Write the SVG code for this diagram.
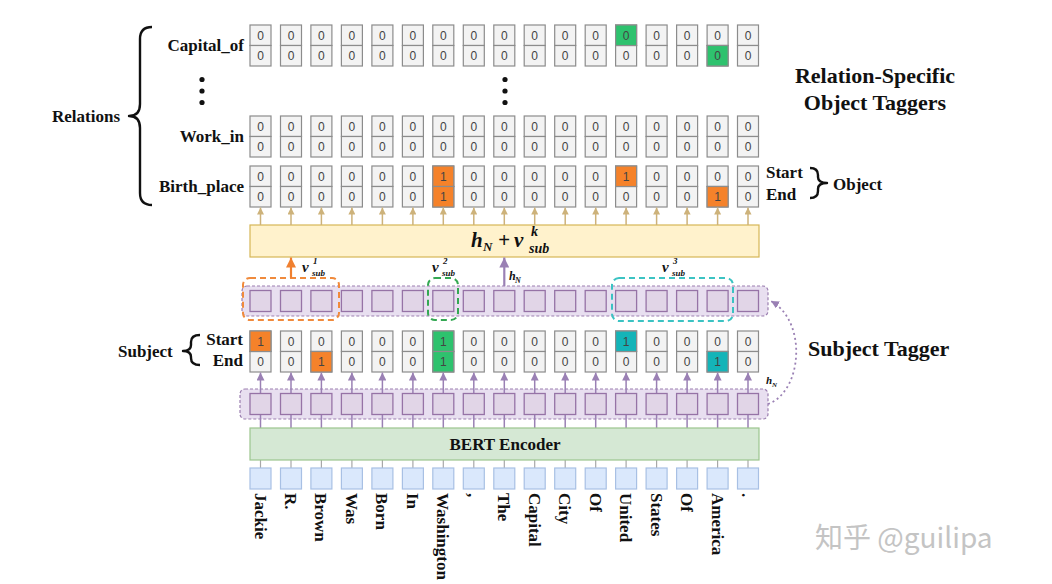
<svg xmlns="http://www.w3.org/2000/svg" width="1052" height="584" viewBox="0 0 1052 584">
<style>
.cell{fill:#f3f3f3;stroke:#8c8c8c;stroke-width:1.2}
.num{font-family:"Liberation Sans",Arial,sans-serif;font-size:12px;fill:#444;text-anchor:middle}
.lbl{font-family:"Liberation Serif","Times New Roman",serif;font-weight:bold;font-size:17px;fill:#111}
.big{font-family:"Liberation Serif","Times New Roman",serif;font-weight:bold;font-size:22px;fill:#111}
.mth{font-family:"Liberation Serif","Times New Roman",serif;font-weight:bold;font-style:italic;fill:#111}
.or{fill:#f5822a;stroke:#8c8c8c;stroke-width:1.2}
.gr{fill:#2ec26e;stroke:#8c8c8c;stroke-width:1.2}
.te{fill:#14b4b8;stroke:#8c8c8c;stroke-width:1.2}
.band{fill:#e8dff0;stroke:#9b7fb0;stroke-width:1.2;stroke-dasharray:3 2}
.psq{fill:#e1d5e7;stroke:#9673a6;stroke-width:1.3}
.tok{fill:#dae8fc;stroke:#a8c0e4;stroke-width:1.2}
.tan{stroke:#cdb27a;stroke-width:1.5;fill:none}
.pur{stroke:#9a80b4;stroke-width:1.5;fill:none}
.gry{stroke:#a8a8a8;stroke-width:1.2}
.brace{fill:none;stroke:#111;stroke-width:2.4;stroke-linejoin:round}
.word{font-family:"Liberation Serif","Times New Roman",serif;font-weight:bold;font-size:17px;fill:#111}
</style>
<defs>
<marker id="mTan" viewBox="0 0 10 10" refX="10" refY="5" markerUnits="userSpaceOnUse" markerWidth="7" markerHeight="7" orient="auto"><path d="M0,0 L10,5 L0,10 z" fill="#cdb27a"/></marker>
<marker id="mPur" viewBox="0 0 10 10" refX="10" refY="5" markerUnits="userSpaceOnUse" markerWidth="8" markerHeight="8" orient="auto"><path d="M0,0 L10,5 L0,10 z" fill="#9a80b4"/></marker>
<marker id="mPurB" viewBox="0 0 10 10" refX="10" refY="5" markerUnits="userSpaceOnUse" markerWidth="10" markerHeight="10" orient="auto"><path d="M0,0 L10,5 L0,10 z" fill="#9a80b4"/></marker>
<marker id="mOr" viewBox="0 0 10 10" refX="10" refY="5" markerUnits="userSpaceOnUse" markerWidth="10" markerHeight="10" orient="auto"><path d="M0,0 L10,5 L0,10 z" fill="#f08030"/></marker>
<g id="pairs">
<rect x="250" y="0" width="21" height="20.5"/><rect x="250" y="20.5" width="21" height="20.5"/>
<rect x="280.5" y="0" width="21" height="20.5"/><rect x="280.5" y="20.5" width="21" height="20.5"/>
<rect x="310.9" y="0" width="21" height="20.5"/><rect x="310.9" y="20.5" width="21" height="20.5"/>
<rect x="341.4" y="0" width="21" height="20.5"/><rect x="341.4" y="20.5" width="21" height="20.5"/>
<rect x="371.9" y="0" width="21" height="20.5"/><rect x="371.9" y="20.5" width="21" height="20.5"/>
<rect x="402.4" y="0" width="21" height="20.5"/><rect x="402.4" y="20.5" width="21" height="20.5"/>
<rect x="432.8" y="0" width="21" height="20.5"/><rect x="432.8" y="20.5" width="21" height="20.5"/>
<rect x="463.3" y="0" width="21" height="20.5"/><rect x="463.3" y="20.5" width="21" height="20.5"/>
<rect x="493.8" y="0" width="21" height="20.5"/><rect x="493.8" y="20.5" width="21" height="20.5"/>
<rect x="524.2" y="0" width="21" height="20.5"/><rect x="524.2" y="20.5" width="21" height="20.5"/>
<rect x="554.7" y="0" width="21" height="20.5"/><rect x="554.7" y="20.5" width="21" height="20.5"/>
<rect x="585.2" y="0" width="21" height="20.5"/><rect x="585.2" y="20.5" width="21" height="20.5"/>
<rect x="615.6" y="0" width="21" height="20.5"/><rect x="615.6" y="20.5" width="21" height="20.5"/>
<rect x="646.1" y="0" width="21" height="20.5"/><rect x="646.1" y="20.5" width="21" height="20.5"/>
<rect x="676.6" y="0" width="21" height="20.5"/><rect x="676.6" y="20.5" width="21" height="20.5"/>
<rect x="707.1" y="0" width="21" height="20.5"/><rect x="707.1" y="20.5" width="21" height="20.5"/>
<rect x="737.5" y="0" width="21" height="20.5"/><rect x="737.5" y="20.5" width="21" height="20.5"/>
</g>
<g id="sqs">
<rect x="250" y="0" width="21" height="21"/><rect x="280.5" y="0" width="21" height="21"/><rect x="310.9" y="0" width="21" height="21"/><rect x="341.4" y="0" width="21" height="21"/><rect x="371.9" y="0" width="21" height="21"/><rect x="402.4" y="0" width="21" height="21"/><rect x="432.8" y="0" width="21" height="21"/><rect x="463.3" y="0" width="21" height="21"/><rect x="493.8" y="0" width="21" height="21"/><rect x="524.2" y="0" width="21" height="21"/><rect x="554.7" y="0" width="21" height="21"/><rect x="585.2" y="0" width="21" height="21"/><rect x="615.6" y="0" width="21" height="21"/><rect x="646.1" y="0" width="21" height="21"/><rect x="676.6" y="0" width="21" height="21"/><rect x="707.1" y="0" width="21" height="21"/><rect x="737.5" y="0" width="21" height="21"/>
</g>
</defs>
<rect width="1052" height="584" fill="#fff"/>

<!-- Relation rows -->
<g id="row-capital-of">
<text class="lbl" x="244" y="51" text-anchor="end">Capital_of</text>
<use href="#pairs" y="25" class="cell"/>
<rect class="gr" x="615.6" y="25" width="21" height="20.5"/>
<rect class="gr" x="707.1" y="45.5" width="21" height="20.5"/>
<text class="num" x="260.5 291 321.4 351.9 382.4 412.9 443.3 473.8 504.3 534.7 565.2 595.7 626.1 656.6 687.1 717.6 748" y="39.6">00000000000000000</text>
<text class="num" x="260.5 291 321.4 351.9 382.4 412.9 443.3 473.8 504.3 534.7 565.2 595.7 626.1 656.6 687.1 717.6 748" y="60.1">00000000000000000</text>
</g>
<g id="ellipsis" fill="#111">
<circle cx="202" cy="79.5" r="2.6"/><circle cx="202" cy="91" r="2.6"/><circle cx="202" cy="102.5" r="2.6"/>
<circle cx="505" cy="79.5" r="2.6"/><circle cx="505" cy="91" r="2.6"/><circle cx="505" cy="102.5" r="2.6"/>
</g>
<g id="row-work-in">
<text class="lbl" x="244" y="142" text-anchor="end">Work_in</text>
<use href="#pairs" y="116" class="cell"/>
<text class="num" x="260.5 291 321.4 351.9 382.4 412.9 443.3 473.8 504.3 534.7 565.2 595.7 626.1 656.6 687.1 717.6 748" y="130.6">00000000000000000</text>
<text class="num" x="260.5 291 321.4 351.9 382.4 412.9 443.3 473.8 504.3 534.7 565.2 595.7 626.1 656.6 687.1 717.6 748" y="151.1">00000000000000000</text>
</g>
<g id="row-birth-place">
<text class="lbl" x="244" y="192" text-anchor="end">Birth_place</text>
<use href="#pairs" y="166" class="cell"/>
<rect class="or" x="432.8" y="166" width="21" height="20.5"/>
<rect class="or" x="432.8" y="186.5" width="21" height="20.5"/>
<rect class="or" x="615.6" y="166" width="21" height="20.5"/>
<rect class="or" x="707.1" y="186.5" width="21" height="20.5"/>
<text class="num" x="260.5 291 321.4 351.9 382.4 412.9 443.3 473.8 504.3 534.7 565.2 595.7 626.1 656.6 687.1 717.6 748" y="180.6">00000010000010000</text>
<text class="num" x="260.5 291 321.4 351.9 382.4 412.9 443.3 473.8 504.3 534.7 565.2 595.7 626.1 656.6 687.1 717.6 748" y="201.1">00000010000000010</text>
</g>
<g id="relations-label">
<path class="brace" d="M152,27 Q140,27 140,39 L140,104 Q140,116 129,116 Q140,116 140,128 L140,193 Q140,205 152,205"/>
<text class="lbl" x="52" y="122">Relations</text>
</g>
<g id="object-label">
<text class="lbl" x="766" y="178">Start</text>
<text class="lbl" x="766" y="200">End</text>
<path class="brace" d="M810,168 Q818,168 818,175 L818,177 Q818,183 827,183 Q818,183 818,189 L818,191 Q818,198 810,198"/>
<text class="lbl" x="833" y="190">Object</text>
</g>
<g id="title-object-taggers">
<text class="big" x="875" y="83" text-anchor="middle">Relation-Specific</text>
<text class="big" x="875" y="110" text-anchor="middle">Object Taggers</text>
</g>

<!-- Fusion box -->
<g id="fusion">
<rect x="250" y="225" width="509" height="32" fill="#fff2cc" stroke="#d6b656" stroke-width="1.2"/>
<text class="mth" x="471" y="247" font-size="21">h</text>
<text class="mth" x="483" y="251" font-size="13">N</text>
<text class="mth" x="498" y="247" font-size="21" font-style="normal">+</text>
<text class="mth" x="514" y="247" font-size="21">v</text>
<text class="mth" x="531" y="236" font-size="14">k</text>
<text class="mth" x="529" y="253" font-size="14">sub</text>
</g>

<!-- Upper encoded band -->
<g id="upper-band">
<rect class="band" x="242" y="286" width="526" height="30" rx="5"/>
<use href="#sqs" y="290.5" class="psq"/>
<rect x="243" y="278" width="96" height="42" rx="7" fill="none" stroke="#f08a3c" stroke-width="2" stroke-dasharray="6 4"/>
<rect x="428" y="278" width="30" height="42" rx="7" fill="none" stroke="#34a853" stroke-width="2" stroke-dasharray="6 4"/>
<rect x="612" y="278" width="121" height="43" rx="7" fill="none" stroke="#3cc3c3" stroke-width="2" stroke-dasharray="6 4"/>
<text class="mth" x="302" y="272" font-size="15">v</text><text class="mth" x="313" y="264" font-size="9">1</text><text class="mth" x="312" y="276" font-size="9">sub</text>
<text class="mth" x="432" y="272" font-size="15">v</text><text class="mth" x="443" y="264" font-size="9">2</text><text class="mth" x="442" y="276" font-size="9">sub</text>
<text class="mth" x="662" y="272" font-size="15">v</text><text class="mth" x="673" y="264" font-size="9">3</text><text class="mth" x="672" y="276" font-size="9">sub</text>
<text class="mth" x="509" y="280" font-size="12">h</text><text class="mth" x="515" y="283" font-size="8">N</text>
</g>

<!-- Subject tagger -->
<g id="subject-tagger-row">
<use href="#pairs" y="331" class="cell"/>
<rect class="or" x="250" y="331" width="21" height="20.5"/>
<rect class="or" x="310.9" y="351.5" width="21" height="20.5"/>
<rect class="gr" x="432.8" y="331" width="21" height="20.5"/>
<rect class="gr" x="432.8" y="351.5" width="21" height="20.5"/>
<rect class="te" x="615.6" y="331" width="21" height="20.5"/>
<rect class="te" x="707.1" y="351.5" width="21" height="20.5"/>
<text class="num" x="260.5 291 321.4 351.9 382.4 412.9 443.3 473.8 504.3 534.7 565.2 595.7 626.1 656.6 687.1 717.6 748" y="345.6">10000010000010000</text>
<text class="num" x="260.5 291 321.4 351.9 382.4 412.9 443.3 473.8 504.3 534.7 565.2 595.7 626.1 656.6 687.1 717.6 748" y="366.1">00100010000000010</text>
</g>
<g id="subject-label">
<text class="lbl" x="243" y="345" text-anchor="end">Start</text>
<text class="lbl" x="243" y="366" text-anchor="end">End</text>
<path class="brace" d="M200,335 Q191,335 191,342 L191,345 Q191,351 183,351 Q191,351 191,357 L191,358 Q191,365 200,365"/>
<text class="lbl" x="118" y="357">Subject</text>
</g>
<g id="title-subject-tagger">
<text class="big" x="808" y="356">Subject Tagger</text>
</g>

<g id="lower-band">
<rect class="band" x="240" y="389" width="528" height="30" rx="5"/>
</g>

<!-- Connectors -->
<g id="connectors">
<g class="tan" marker-end="url(#mTan)">
<line x1="260.5" y1="225" x2="260.5" y2="207.5"/><line x1="291" y1="225" x2="291" y2="207.5"/><line x1="321.4" y1="225" x2="321.4" y2="207.5"/><line x1="351.9" y1="225" x2="351.9" y2="207.5"/><line x1="382.4" y1="225" x2="382.4" y2="207.5"/><line x1="412.9" y1="225" x2="412.9" y2="207.5"/><line x1="443.3" y1="225" x2="443.3" y2="207.5"/><line x1="473.8" y1="225" x2="473.8" y2="207.5"/><line x1="504.3" y1="225" x2="504.3" y2="207.5"/><line x1="534.7" y1="225" x2="534.7" y2="207.5"/><line x1="565.2" y1="225" x2="565.2" y2="207.5"/><line x1="595.7" y1="225" x2="595.7" y2="207.5"/><line x1="626.1" y1="225" x2="626.1" y2="207.5"/><line x1="656.6" y1="225" x2="656.6" y2="207.5"/><line x1="687.1" y1="225" x2="687.1" y2="207.5"/><line x1="717.6" y1="225" x2="717.6" y2="207.5"/><line x1="748" y1="225" x2="748" y2="207.5"/>
</g>
<line x1="291" y1="278" x2="291" y2="257.5" stroke="#f08030" stroke-width="2.2" marker-end="url(#mOr)"/>
<line x1="504.3" y1="286" x2="504.3" y2="257.5" stroke="#9a80b4" stroke-width="2.2" marker-end="url(#mPurB)"/>
<g class="pur" marker-end="url(#mPur)">
<line x1="260.5" y1="428" x2="260.5" y2="372.5"/><line x1="291" y1="428" x2="291" y2="372.5"/><line x1="321.4" y1="428" x2="321.4" y2="372.5"/><line x1="351.9" y1="428" x2="351.9" y2="372.5"/><line x1="382.4" y1="428" x2="382.4" y2="372.5"/><line x1="412.9" y1="428" x2="412.9" y2="372.5"/><line x1="443.3" y1="428" x2="443.3" y2="372.5"/><line x1="473.8" y1="428" x2="473.8" y2="372.5"/><line x1="504.3" y1="428" x2="504.3" y2="372.5"/><line x1="534.7" y1="428" x2="534.7" y2="372.5"/><line x1="565.2" y1="428" x2="565.2" y2="372.5"/><line x1="595.7" y1="428" x2="595.7" y2="372.5"/><line x1="626.1" y1="428" x2="626.1" y2="372.5"/><line x1="656.6" y1="428" x2="656.6" y2="372.5"/><line x1="687.1" y1="428" x2="687.1" y2="372.5"/><line x1="717.6" y1="428" x2="717.6" y2="372.5"/><line x1="748" y1="428" x2="748" y2="372.5"/>
</g>
<g class="gry">
<line x1="260.5" y1="460" x2="260.5" y2="468"/><line x1="291" y1="460" x2="291" y2="468"/><line x1="321.4" y1="460" x2="321.4" y2="468"/><line x1="351.9" y1="460" x2="351.9" y2="468"/><line x1="382.4" y1="460" x2="382.4" y2="468"/><line x1="412.9" y1="460" x2="412.9" y2="468"/><line x1="443.3" y1="460" x2="443.3" y2="468"/><line x1="473.8" y1="460" x2="473.8" y2="468"/><line x1="504.3" y1="460" x2="504.3" y2="468"/><line x1="534.7" y1="460" x2="534.7" y2="468"/><line x1="565.2" y1="460" x2="565.2" y2="468"/><line x1="595.7" y1="460" x2="595.7" y2="468"/><line x1="626.1" y1="460" x2="626.1" y2="468"/><line x1="656.6" y1="460" x2="656.6" y2="468"/><line x1="687.1" y1="460" x2="687.1" y2="468"/><line x1="717.6" y1="460" x2="717.6" y2="468"/><line x1="748" y1="460" x2="748" y2="468"/>
</g>
<path d="M768,404 C802,392 808,322 771,301" fill="none" stroke="#9a80b4" stroke-width="1.8" stroke-dasharray="2 3" marker-end="url(#mPur)"/>
<text class="mth" x="766" y="384" font-size="11">h</text><text class="mth" x="772" y="387" font-size="7">N</text>
</g>

<g id="lower-squares">
<use href="#sqs" y="393.5" class="psq"/>
</g>

<g id="bert">
<rect x="250" y="428" width="509" height="32" fill="#d5e8d4" stroke="#9cc58e" stroke-width="1.2"/>
<text class="lbl" x="505" y="450" text-anchor="middle" font-size="18">BERT Encoder</text>
</g>

<g id="tokens">
<use href="#sqs" y="468" class="tok"/>
<text class="word" transform="translate(260.5,493) rotate(90)" y="6">Jackie</text>
<text class="word" transform="translate(291,493) rotate(90)" y="6">R.</text>
<text class="word" transform="translate(321.4,493) rotate(90)" y="6">Brown</text>
<text class="word" transform="translate(351.9,493) rotate(90)" y="6">Was</text>
<text class="word" transform="translate(382.4,493) rotate(90)" y="6">Born</text>
<text class="word" transform="translate(412.9,493) rotate(90)" y="6">In</text>
<text class="word" transform="translate(443.3,493) rotate(90)" y="6">Washington</text>
<text class="word" transform="translate(473.8,493) rotate(90)" y="6">,</text>
<text class="word" transform="translate(504.3,493) rotate(90)" y="6">The</text>
<text class="word" transform="translate(534.7,493) rotate(90)" y="6">Capital</text>
<text class="word" transform="translate(565.2,493) rotate(90)" y="6">City</text>
<text class="word" transform="translate(595.7,493) rotate(90)" y="6">Of</text>
<text class="word" transform="translate(626.1,493) rotate(90)" y="6">United</text>
<text class="word" transform="translate(656.6,493) rotate(90)" y="6">States</text>
<text class="word" transform="translate(687.1,493) rotate(90)" y="6">Of</text>
<text class="word" transform="translate(717.6,493) rotate(90)" y="6">America</text>
<text class="word" transform="translate(748,493) rotate(90)" y="6">.</text>
</g>

<g id="watermark">
<text x="815" y="548" font-family="'Noto Sans CJK SC','Noto Sans',sans-serif" font-size="28" fill="#c4c4c4">知乎 @guilipa</text>
</g>
</svg>
